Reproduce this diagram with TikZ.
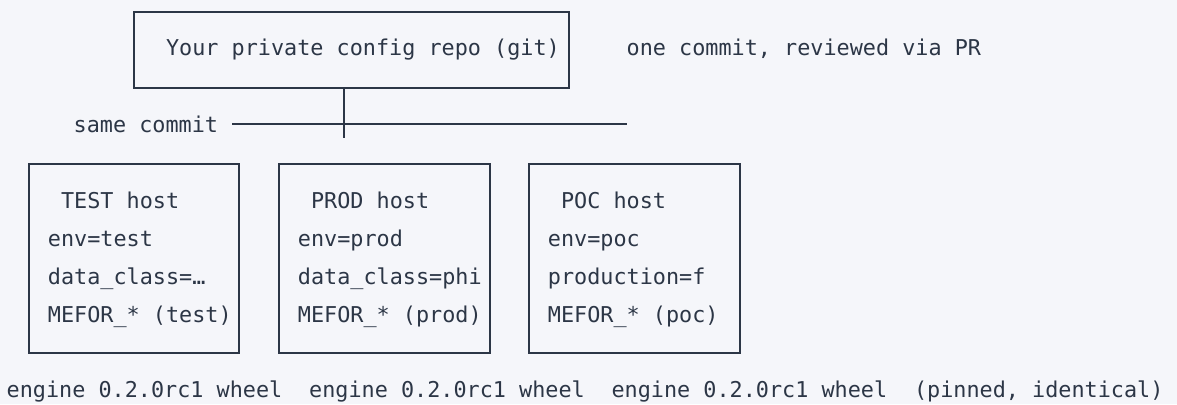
\documentclass[tikz,border=0pt]{standalone}
\usepackage{fontspec}
\setmonofont{DejaVu Sans Mono}
\definecolor{bgcol}{RGB}{245,246,250}
\definecolor{inkcol}{RGB}{44,54,70}
\tikzset{
  box/.style={draw=inkcol, line width=1.7pt, inner sep=0pt, anchor=north west, minimum width=#1, minimum height=189pt},
  txt/.style={anchor=base west, inner sep=0pt, text=inkcol, font=\ttfamily\fontsize{21.8}{26}\selectfont},
  conn/.style={draw=inkcol, line width=1.7pt}
}
\begin{document}
\begin{tikzpicture}[x=1pt,y=-1pt]
\fill[bgcol] (0,0) rectangle (1177,404);
\useasboundingbox (0,0) rectangle (1177,404);

% top repo box
\node[box=435pt, minimum height=76pt] (repo) at (133,11) {};
\node[txt] (repotxt) at (165.9,56) {Your private config repo (git)};
\node[txt] (note) at (626.5,56) {one commit, reviewed via PR};

% fan-out connector
\coordinate (tap) at (344,87);
\coordinate (tapend) at (344,138);
\coordinate (hl) at (232,124);
\coordinate (hr) at (627,124);
\node[txt] (same) at (73.5,132) {same commit};
\draw[conn] (tap) -- (tapend);
\draw[conn] (hl) -- (hr);

% host boxes
\node[box=210pt] (test) at (28,163) {};
\node[box=211pt] (prod) at (278,163) {};
\node[box=211pt] (poc) at (528,163) {};

\node[txt] (testh) at (60.9,208) {TEST host};
\node[txt] (teste) at (47.7,246) {env=test};
\node[txt] (testd) at (47.7,284) {data\_class=…};
\node[txt] (testm) at (47.7,322) {MEFOR\_* (test)};

\node[txt] (prodh) at (310.9,208) {PROD host};
\node[txt] (prode) at (297.7,246) {env=prod};
\node[txt] (prodd) at (297.7,284) {data\_class=phi};
\node[txt] (prodm) at (297.7,322) {MEFOR\_* (prod)};

\node[txt] (poch) at (560.9,208) {POC host};
\node[txt] (poce) at (547.7,246) {env=poc};
\node[txt] (pocd) at (547.7,284) {production=f};
\node[txt] (pocm) at (547.7,322) {MEFOR\_* (poc)};

% wheels
\node[txt] (w1) at (6.5,397) {engine 0.2.0rc1 wheel};
\node[txt] (w2) at (309,397) {engine 0.2.0rc1 wheel};
\node[txt] (w3) at (611.4,397) {engine 0.2.0rc1 wheel};
\node[txt] (pin) at (913.9,397) {(pinned, identical)};
\end{tikzpicture}
\end{document}
